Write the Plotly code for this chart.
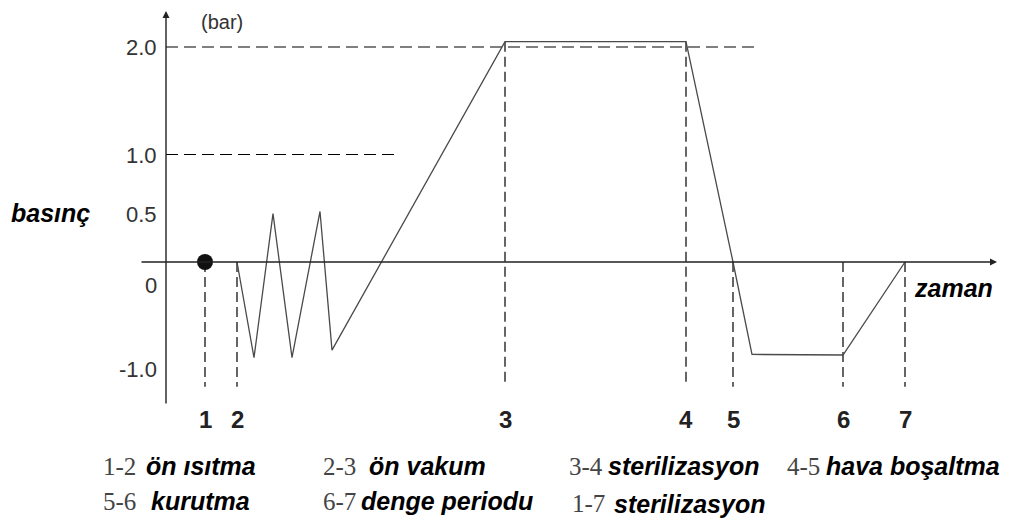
import plotly.graph_objects as go

# ---------------- data ----------------
point_labels = ["1", "2", "3", "4", "5", "6", "7"]
point_times = [3.9, 7.1, 33.9, 52.0, 56.7, 67.7, 73.9]
point_top_pressure = [0, 0, 2.05, 2.05, 0, 0, 0]
guide_bottom = -1.16

curve_time = [7.1, 8.8, 10.7, 12.6, 15.4, 16.6, 33.9, 52.0, 56.7, 58.6, 67.7, 73.9]
curve_pressure = [0, -0.89, 0.45, -0.89, 0.47, -0.82, 2.05, 2.05, 0, -0.86, -0.865, 0]

ref_levels = [2.0, 1.0]
ref_level_ends = [58.9, 23.4]

y_tick_values = [2.0, 1.0, 0.5, 0, -1.0]
y_tick_labels = ["2.0", "1.0", "0.5", "0", "-1.0"]

phase_codes = ["1-2", "2-3", "3-4", "4-5", "5-6", "6-7", "1-7"]
phase_names = ["ön ısıtma", "ön vakum", "sterilizasyon", "hava boşaltma",
               "kurutma", "denge periodu", "sterilizasyon"]

# ---------------- layout helpers ----------------
# screen pixel positions are measured in the 1012x526 window; the page body
# has an 8px margin, so the figure itself is placed 8px in.
OFF = 8
FW, FH = 1004, 518
PX_L, PX_R, PX_T, PX_B = 140, 1000, 10, 410          # plot area in screen px
ML, MR, MT, MB = PX_L - OFF, FW - (PX_R - OFF), PX_T - OFF, FH - (PX_B - OFF)
X0PX, XSCALE = 166, 10.0      # x data = (px - 166)/10
Y0PX, YSCALE = 262, 107.5     # y data = (262 - py)/107.5


def px2x(px):
    return (px - X0PX) / XSCALE


def py2y(py):
    return (Y0PX - py) / YSCALE


def pxp(px):
    return (px - PX_L) / (PX_R - PX_L)


def pyp(py):
    return (PX_B - py) / (PX_B - PX_T)


xr = [px2x(PX_L), px2x(PX_R)]
yr = [py2y(PX_B), py2y(PX_T)]

fig = go.Figure()

# horizontal dashed reference levels
hx, hy = [], []
for lvl, end in zip(ref_levels, ref_level_ends):
    hx += [0, end, None]
    hy += [lvl, lvl, None]
fig.add_trace(go.Scatter(x=hx, y=hy, mode="lines", hoverinfo="skip",
                         line=dict(color="#000", width=1.2, dash="12px,6px")))

# vertical dashed guides at phase points
vx, vy = [], []
for t, top in zip(point_times, point_top_pressure):
    vx += [t, t, None]
    vy += [top, guide_bottom, None]
fig.add_trace(go.Scatter(x=vx, y=vy, mode="lines", hoverinfo="skip",
                         line=dict(color="#000", width=1.2, dash="10px,5px")))

# pressure curve
fig.add_trace(go.Scatter(x=curve_time, y=curve_pressure, mode="lines",
                         line=dict(color="#4a4a4a", width=1.3), hoverinfo="skip"))

# start point
fig.add_trace(go.Scatter(x=[point_times[0]], y=[0], mode="markers",
                         marker=dict(color="#111", size=16), hoverinfo="skip"))

ann = []
# axes with arrows
ann.append(dict(x=0, y=py2y(11), ax=0, ay=py2y(405), xref="x", yref="y",
                axref="x", ayref="y", showarrow=True, arrowhead=2,
                arrowsize=1, arrowwidth=1.4, arrowcolor="#222", text=""))
ann.append(dict(x=px2x(997), y=0, ax=px2x(140), ay=0, xref="x", yref="y",
                axref="x", ayref="y", showarrow=True, arrowhead=2,
                arrowsize=1, arrowwidth=1.4, arrowcolor="#222", text=""))

tick_font = dict(family="Liberation Sans, Arial", size=22, color="#333")
tick_py = [47, 155, 214, 285, 369]
for py, lab in zip(tick_py, y_tick_labels):
    ann.append(dict(x=pxp(159), y=pyp(py), xref="paper", yref="paper", text=lab,
                    showarrow=False, xanchor="right", yanchor="middle",
                    font=tick_font))

ann.append(dict(x=pxp(200), y=pyp(22), xref="paper", yref="paper", text="(bar)",
                showarrow=False, xanchor="left", yanchor="middle", borderpad=0,
                font=dict(family="Liberation Sans, Arial", size=20, color="#333")))

label_font = dict(family="Liberation Sans, Arial", size=25, color="#000")
ann.append(dict(x=pxp(9), y=pyp(213), xref="paper", yref="paper",
                text="<b><i>basınç</i></b>", showarrow=False,
                xanchor="left", yanchor="middle", font=label_font))
ann.append(dict(x=pxp(912), y=pyp(288), xref="paper", yref="paper",
                text="<b><i>zaman</i></b>", showarrow=False,
                xanchor="left", yanchor="middle", font=label_font))

num_font = dict(family="Liberation Sans, Arial", size=24, color="#222")
for lab, t in zip(point_labels, point_times):
    ann.append(dict(x=pxp(X0PX + t * XSCALE), y=pyp(420), xref="paper", yref="paper",
                    text="<b>" + lab + "</b>", showarrow=False,
                    xanchor="center", yanchor="middle", font=num_font))

# phase legend
code_font = dict(family="Liberation Serif, Times New Roman", size=25, color="#444")
name_font = dict(family="Liberation Sans, Arial", size=25, color="#000")
code_px = [101, 321, 567, 785, 101, 321, 570]
name_px = [144, 367, 606, 824, 149, 359, 612]
row_py = [466, 466, 466, 466, 501, 501, 504]
for code, name, cx, nx, ry in zip(phase_codes, phase_names, code_px, name_px, row_py):
    ann.append(dict(x=pxp(cx), y=pyp(ry), xref="paper", yref="paper", text=code,
                    showarrow=False, xanchor="left", yanchor="middle",
                    font=code_font))
    ann.append(dict(x=pxp(nx), y=pyp(ry), xref="paper", yref="paper",
                    text="<b><i>" + name + "</i></b>", showarrow=False,
                    xanchor="left", yanchor="middle", font=name_font))

fig.update_layout(
    width=FW, height=FH,
    margin=dict(l=ML, r=MR, t=MT, b=MB),
    paper_bgcolor="white", plot_bgcolor="white",
    showlegend=False,
    xaxis=dict(range=xr, visible=False, fixedrange=True),
    yaxis=dict(range=yr, visible=False, fixedrange=True),
    annotations=ann,
)

fig.write_html("out.html")
